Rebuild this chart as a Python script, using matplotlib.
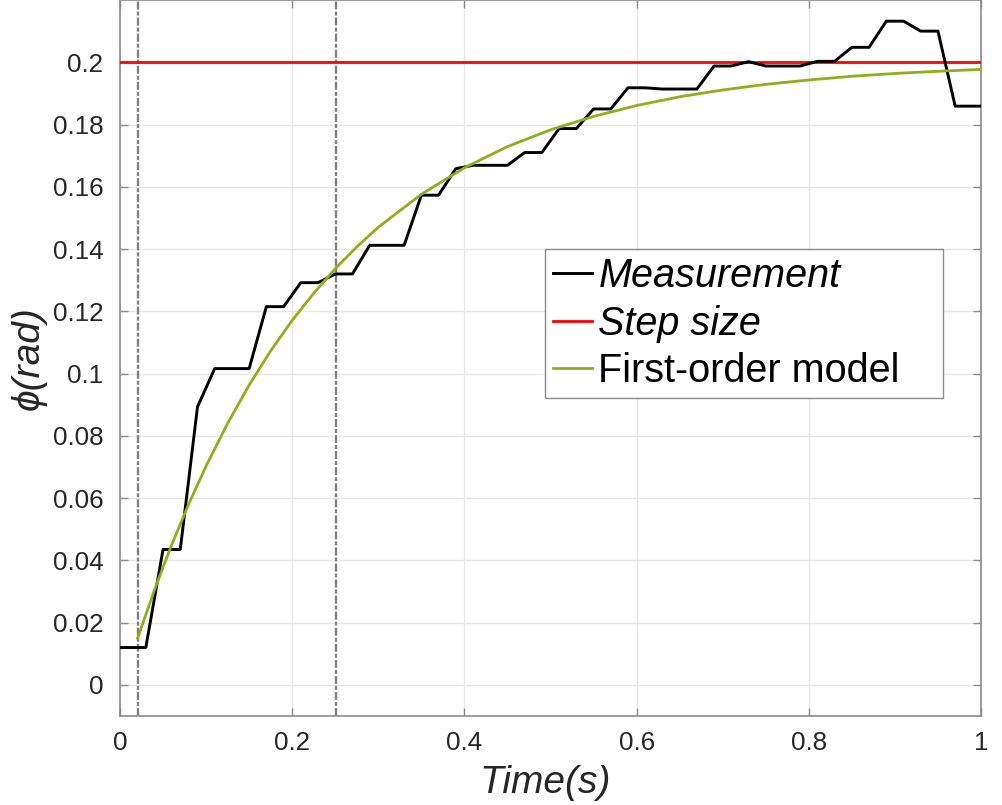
import matplotlib
matplotlib.use("Agg")
import matplotlib.pyplot as plt

# ---- data ----
meas_t = [0.00, 0.01, 0.03, 0.05, 0.07, 0.09, 0.11, 0.13, 0.15, 0.17, 0.19, 0.21,
          0.23, 0.25, 0.27, 0.29, 0.31, 0.33, 0.35, 0.37, 0.39, 0.41, 0.43, 0.45,
          0.47, 0.49, 0.51, 0.53, 0.55, 0.57, 0.59, 0.61, 0.63, 0.65, 0.67, 0.69,
          0.71, 0.73, 0.75, 0.77, 0.79, 0.81, 0.83, 0.85, 0.87, 0.89, 0.91, 0.93,
          0.95, 0.97, 0.99, 1.00]
meas_v = [0.012, 0.012, 0.012, 0.0435, 0.0435, 0.0893, 0.1016, 0.1016, 0.1016,
          0.1215, 0.1215, 0.1292, 0.1292, 0.132, 0.132, 0.1412, 0.1412, 0.1412,
          0.1573, 0.1573, 0.1658, 0.1669, 0.1669, 0.1669, 0.171, 0.171, 0.1787,
          0.1787, 0.185, 0.185, 0.1918, 0.1918, 0.1914, 0.1914, 0.1914, 0.1988,
          0.1988, 0.2002, 0.1988, 0.1988, 0.1988, 0.2003, 0.2003, 0.2048, 0.2048,
          0.2132, 0.2132, 0.21, 0.21, 0.1859, 0.1859, 0.1859]

model_t = [0.0205, 0.04, 0.06, 0.08, 0.10, 0.125, 0.15, 0.175, 0.20, 0.225, 0.25,
           0.275, 0.30, 0.35, 0.40, 0.45, 0.50, 0.55, 0.60, 0.65, 0.70, 0.75,
           0.80, 0.85, 0.90, 0.95, 1.00]
model_v = [0.015, 0.0305, 0.0450, 0.0582, 0.0703, 0.0840, 0.0963, 0.1073, 0.1171,
           0.1258, 0.1337, 0.1407, 0.1470, 0.1576, 0.1661, 0.1729, 0.1783, 0.1826,
           0.1861, 0.1889, 0.1911, 0.1929, 0.1943, 0.1955, 0.1964, 0.1971, 0.1977]

step_size = 0.2
marker_times = [0.0205, 0.2505]

x_ticks = [0, 0.2, 0.4, 0.6, 0.8, 1.0]
x_tick_labels = ["0", "0.2", "0.4", "0.6", "0.8", "1"]
y_ticks = [0, 0.02, 0.04, 0.06, 0.08, 0.1, 0.12, 0.14, 0.16, 0.18, 0.2]
y_tick_labels = ["0", "0.02", "0.04", "0.06", "0.08", "0.1", "0.12", "0.14",
                 "0.16", "0.18", "0.2"]

legend_labels = ["Measurement", "Step size", "First-order model"]

# ---- figure ----
plt.rcParams['font.family'] = ['Liberation Sans', 'DejaVu Sans']

fig = plt.figure(figsize=(10.03, 8.05), dpi=100)
ax = fig.add_axes([120 / 1003, 1 - 716 / 805, 861 / 1003, 716 / 805])

spine_col = '#8a8a8a'
text_col = '#262626'

for tm in marker_times:
    ax.axvline(tm, color='#808080', linewidth=1.7, zorder=2,
               linestyle=(0, (3.4, 0.85, 1.7, 0.85)))

l1, = ax.plot(meas_t, meas_v, color='black', linewidth=2.1, zorder=4)
l2 = ax.axhline(step_size, color='#ff0000', linewidth=2.0, zorder=3)
l3, = ax.plot(model_t, model_v, color='#8fae1c', linewidth=2.0, zorder=5)

ax.set_xlim(0, 1)
ax.set_ylim(-0.01, 0.22)
ax.set_xticks(x_ticks)
ax.set_xticklabels(x_tick_labels)
ax.set_yticks(y_ticks)
ax.set_yticklabels(y_tick_labels)

ax.grid(True, color='#e6e6e6', linewidth=1.0, zorder=0)
ax.set_axisbelow(True)

for s in ax.spines.values():
    s.set_color(spine_col)
    s.set_linewidth(1.2)

ax.tick_params(axis='both', which='both', direction='in', length=6, width=1,
               color=spine_col, labelcolor=text_col, labelsize=18.7,
               top=True, right=True)
ax.tick_params(axis='y', pad=12)
ax.tick_params(axis='x', pad=11)

ax.set_xlabel("Time(s)", fontsize=28, fontstyle='italic', color=text_col)
ax.xaxis.set_label_coords((545 - 120) / 861, -(765 - 716) / 716, transform=ax.transAxes)
ax.xaxis.label.set_verticalalignment('top')
ax.set_ylabel("\u03d5(rad)", fontsize=28, fontstyle='italic', color=text_col,
              labelpad=4)

leg = ax.legend([l1, l2, l3], legend_labels, loc='upper left',
                bbox_to_anchor=(0.4936, 0.444, 0.4623, 0.208), mode='expand',
                fontsize=28.5,
                handlelength=1.0, handletextpad=0.15, labelspacing=0.24,
                borderpad=0.2, borderaxespad=0, frameon=True, fancybox=False,
                framealpha=1, edgecolor='#8a8a8a')
leg.get_frame().set_linewidth(1.0)
texts = leg.get_texts()
texts[0].set_fontstyle('italic')
texts[1].set_fontstyle('italic')

fig.savefig("out.png", dpi=100)
